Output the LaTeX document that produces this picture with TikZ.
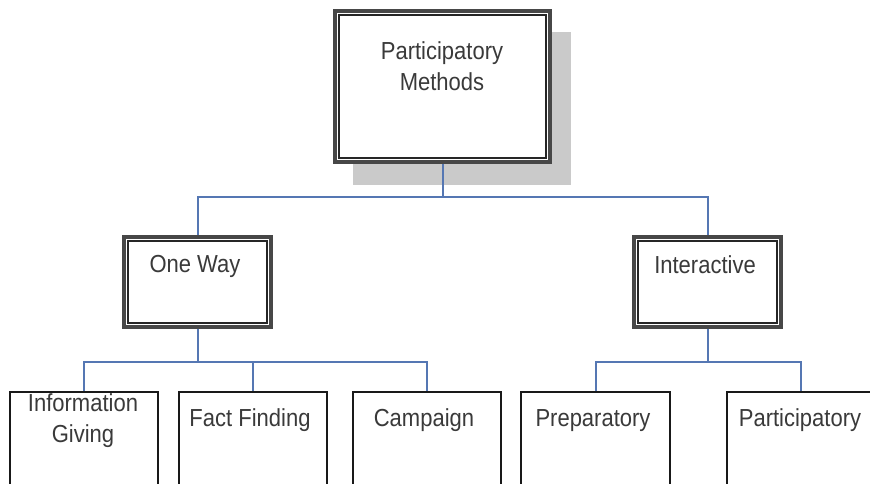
\documentclass[tikz,border=0pt]{standalone}
\usepackage{fontspec}
\setmainfont{Liberation Sans}
\usetikzlibrary{calc}
\definecolor{conn}{HTML}{5577B3}
\definecolor{txt}{HTML}{3A3A3A}
\definecolor{shadowc}{HTML}{CACACA}
\newcommand{\tallt}[1]{\scalebox{1}[1.12]{#1}}
\tikzset{
  bigbox/.style={draw=black!72, line width=4pt, fill=white, inner sep=0pt, rectangle},
  smallbox/.style={draw=black!90, line width=2pt, fill=white, inner sep=0pt, rectangle, minimum width=148pt, minimum height=108pt},
  innerline/.style={draw=black!85, line width=1.5pt},
  connector/.style={draw=conn, line width=2pt},
  lbl/.style={text=txt, font=\fontsize{22}{31}\selectfont, inner sep=0pt, align=center},
}
\begin{document}
\begin{tikzpicture}[x=1pt,y=-1pt]
\useasboundingbox (0,0) rectangle (870,483);
\clip (0,0) rectangle (870,483);
\fill[white] (0,0) rectangle (870,483);
% shadow
\fill[shadowc] (353,32) rectangle (571,185);
% boxes
\node[bigbox, minimum width=215pt, minimum height=151pt] (top) at (442.5,86.5) {};
\node[bigbox, minimum width=147pt, minimum height=90pt] (oneway) at (197.5,282) {};
\node[bigbox, minimum width=147pt, minimum height=90pt] (inter) at (707.5,282) {};
\foreach \n in {top,oneway,inter}{
  \draw[innerline] ($(\n.north west)+(6,6)$) rectangle ($(\n.south east)+(-6,-6)$);
}
\node[smallbox] (info) at (84,446) {};
\node[smallbox] (fact) at (253,446) {};
\node[smallbox] (camp) at (427,446) {};
\node[smallbox, minimum width=149pt] (prep) at (595.5,446) {};
\node[smallbox] (part) at (801,446) {};
% connectors
\draw[connector] (top.south) -- ++(0,33) -| (oneway.north);
\draw[connector] (top.south) -- ++(0,33) -| (inter.north);
\coordinate (ow) at ($(oneway.south)+(0,33)$);
\draw[connector] (oneway.south) -- (ow) -| (info.north);
\draw[connector] (ow) -| (fact.north);
\draw[connector] (ow) -| (camp.north);
\coordinate (iw) at ($(inter.south)+(0,33)$);
\draw[connector] (inter.south) -- (iw) -| (prep.north);
\draw[connector] (iw) -| (part.north);
% labels
\node[lbl] (ttop) at (442,66) {\tallt{Participatory}\\\tallt{Methods}};
\node[lbl, anchor=base] (tone) at (195,272) {\tallt{One Way}};
\node[lbl, anchor=base] (tint) at (705,273) {\tallt{Interactive}};
\node[lbl] (tinfo) at (83,421) {\tallt{Information}\\\tallt{Giving}};
\node[lbl, anchor=base] (tfact) at (250,426) {\tallt{Fact Finding}};
\node[lbl, anchor=base] (tcamp) at (424,426) {\tallt{Campaign}};
\node[lbl, anchor=base] (tprep) at (593,426) {\tallt{Preparatory}};
\node[lbl, anchor=base] (tpart) at (800,426) {\tallt{Participatory}};
\end{tikzpicture}
\end{document}
